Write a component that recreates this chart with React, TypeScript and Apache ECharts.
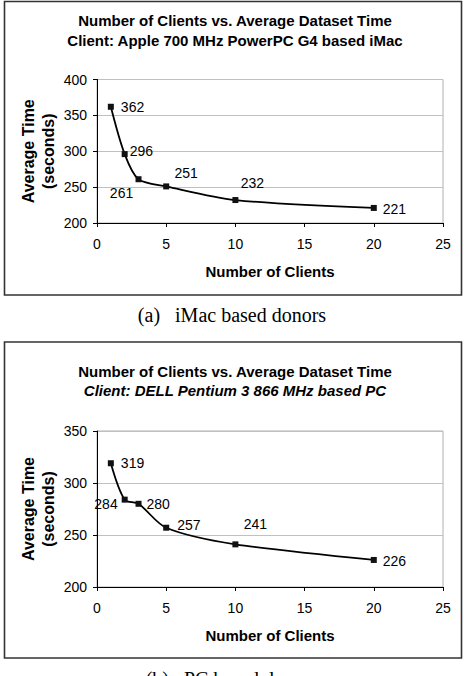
import React, { useEffect, useRef } from "react";
import * as echarts from "echarts";

// Number of concurrent clients tested
const clientCounts = [1, 2, 3, 5, 10, 20];
// Average dataset time (seconds), iMac based donors
const imacTimes = [362, 296, 261, 251, 232, 221];
// Average dataset time (seconds), PC based donors
const pcTimes = [319, 284, 280, 257, 241, 226];

const xTicks = { min: 0, max: 25, interval: 5 };
const imacY = { min: 200, max: 400, interval: 50 };
const pcY = { min: 200, max: 350, interval: 50 };

// label placement for each point of each series
const imacLabelPlacement: [string, number[]][] = [
  ["right", [2, 0]],
  ["right", [-3, -3]],
  ["bottom", [-17, -1]],
  ["top", [20, 2]],
  ["top", [17, -2]],
  ["right", [1, 1]],
];
const pcLabelPlacement: [string, number[]][] = [
  ["right", [2, 0]],
  ["left", [1, 4]],
  ["right", [0, 0]],
  ["right", [3, -3]],
  ["top", [20, -5]],
  ["right", [1, 1]],
];

const SANS = "'Liberation Sans', Arial, sans-serif";
const SERIF = "'Liberation Serif', 'Times New Roman', serif";

function buildData(values: number[], placement: [string, number[]][]) {
  return values.map((v, i) => ({
    value: [clientCounts[i], v],
    label: {
      show: true,
      position: placement[i][0],
      offset: placement[i][1],
      distance: 5,
    },
  }));
}

function xAxisFor(gridIndex: number) {
  return {
    type: "value",
    gridIndex,
    min: xTicks.min,
    max: xTicks.max,
    interval: xTicks.interval,
    name: "Number of Clients",
    nameLocation: "middle",
    nameGap: 41,
    nameMoveOverlap: false,
    nameTextStyle: { fontFamily: SANS, fontSize: 15, fontWeight: "bold", color: "#000" },
    axisLine: { show: true, onZero: false, lineStyle: { color: "#000", width: 1 } },
    axisTick: { show: true, inside: false, length: 4, lineStyle: { color: "#000" } },
    axisLabel: { fontFamily: SANS, fontSize: 14, color: "#000", margin: 14 },
    splitLine: { show: false },
  };
}

function yAxisFor(gridIndex: number, r: { min: number; max: number; interval: number }) {
  return {
    type: "value",
    gridIndex,
    min: r.min,
    max: r.max,
    interval: r.interval,
    name: "Average Time\n(seconds)",
    nameLocation: "middle",
    nameRotate: 90,
    nameGap: 39,
    nameMoveOverlap: false,
    nameTextStyle: {
      fontFamily: SANS,
      fontSize: 16,
      fontWeight: "bold",
      color: "#000",
      lineHeight: 20,
    },
    axisLine: { show: true, lineStyle: { color: "#000", width: 1 } },
    axisTick: { show: true, inside: false, length: 4, lineStyle: { color: "#000" } },
    axisLabel: { fontFamily: SANS, fontSize: 14, color: "#000", margin: 10 },
    splitLine: { show: true, lineStyle: { color: "#c0c0c0", width: 1 } },
  };
}

function seriesFor(idx: number, data: any[]) {
  return {
    type: "line",
    xAxisIndex: idx,
    yAxisIndex: idx,
    data,
    smooth: 0.3,
    symbol: "rect",
    symbolSize: 6,
    showAllSymbol: true,
    lineStyle: { color: "#000", width: 1.8 },
    itemStyle: { color: "#111" },
    label: { fontFamily: SANS, fontSize: 14, color: "#000" },
    z: 3,
  };
}

function centeredText(x: number, y: number, text: string, font: any) {
  return {
    type: "text",
    x,
    y,
    style: {
      text,
      fill: "#000",
      align: "center",
      verticalAlign: "middle",
      ...font,
    },
  };
}

export default function App() {
  const ref = useRef<HTMLDivElement>(null);

  useEffect(() => {
    if (!ref.current) return;
    const chart = echarts.init(ref.current, undefined, { renderer: "svg" });

    const boldTitle = { fontFamily: SANS, fontSize: 15, fontWeight: "bold" };

    chart.setOption({
      animation: false,
      backgroundColor: "#fff",
      grid: [
        {
          left: 97,
          top: 79.5,
          width: 346,
          height: 143.5,
          show: true,
          borderColor: "#b0b0b0",
          borderWidth: 1,
          backgroundColor: "transparent",
        },
        {
          left: 97,
          top: 431,
          width: 346,
          height: 156,
          show: true,
          borderColor: "#b0b0b0",
          borderWidth: 1,
          backgroundColor: "transparent",
        },
      ],
      xAxis: [xAxisFor(0), xAxisFor(1)],
      yAxis: [yAxisFor(0, imacY), yAxisFor(1, pcY)],
      series: [
        seriesFor(0, buildData(imacTimes, imacLabelPlacement)),
        seriesFor(1, buildData(pcTimes, pcLabelPlacement)),
      ],
      graphic: [
        {
          type: "rect",
          shape: { x: 4.5, y: 1.5, width: 457, height: 293.5 },
          style: { fill: "none", stroke: "#333", lineWidth: 1.6 },
          silent: true,
        },
        {
          type: "rect",
          shape: { x: 4.5, y: 342, width: 457, height: 316 },
          style: { fill: "none", stroke: "#333", lineWidth: 1.6 },
          silent: true,
        },
        centeredText(235, 20, "Number of Clients vs. Average Dataset Time", boldTitle),
        centeredText(235, 40, "Client: Apple 700 MHz PowerPC G4 based iMac", boldTitle),
        centeredText(235, 371, "Number of Clients vs. Average Dataset Time", boldTitle),
        centeredText(235, 390, "Client: DELL Pentium 3 866 MHz based PC", {
          ...boldTitle,
          fontStyle: "italic",
        }),
        centeredText(232, 315, "(a)   iMac based donors", { fontFamily: SERIF, fontSize: 20 }),
        centeredText(232, 679, "(b)   PC based donors", { fontFamily: SERIF, fontSize: 20 }),
      ],
    });

    return () => chart.dispose();
  }, []);

  return (
    <div
      ref={ref}
      style={{ position: "fixed", left: 0, top: 0, width: 464, height: 676 }}
    />
  );
}
